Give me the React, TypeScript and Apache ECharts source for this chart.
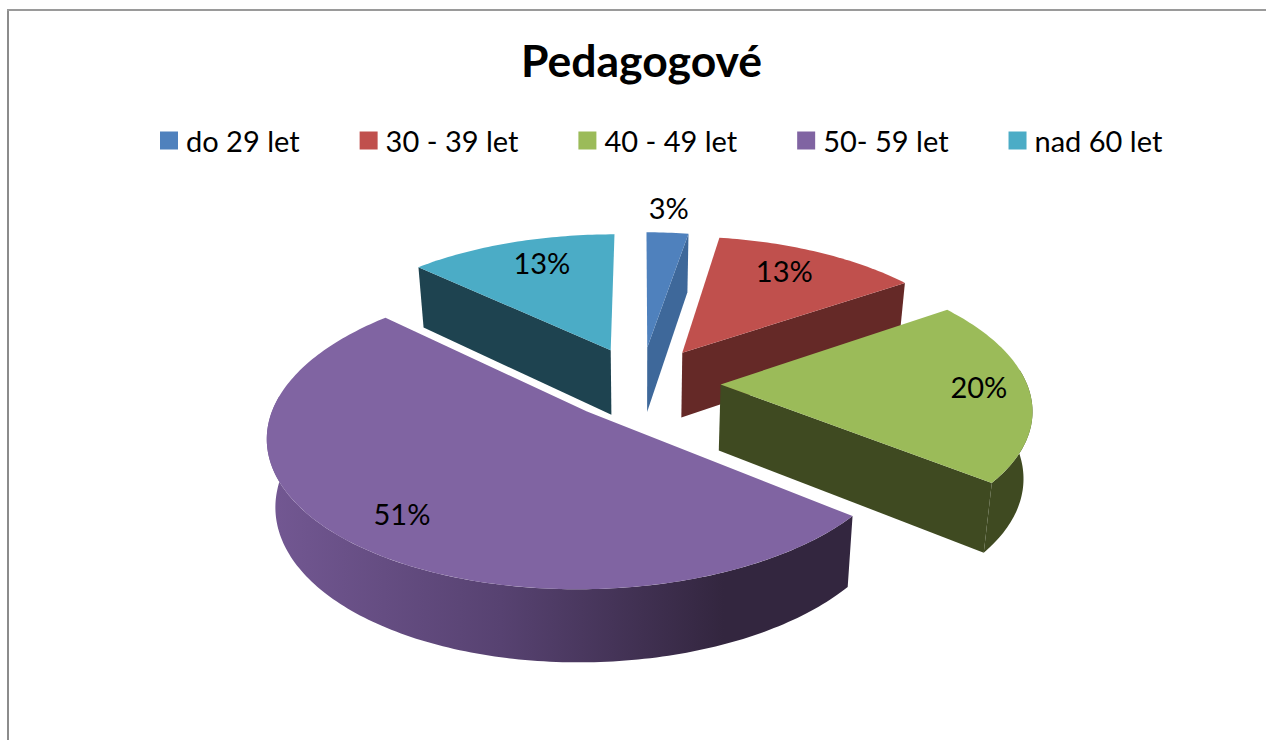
import React, { useEffect, useRef } from "react";
import * as echarts from "echarts";

const TITLE = "Pedagogové";
const categories = ["do 29 let", "30 - 39 let", "40 - 49 let", "50- 59 let", "nad 60 let"];
// percentages; the printed labels are these rounded
const shares = [2.6, 12.8, 20.4, 51.3, 12.9];
const topColors = ["#4F81BD", "#C0504D", "#9BBB59", "#8064A2", "#4BACC6"];
const wallColors = ["#3E689A", "#652927", "#3F4A21", "#3A2B4C", "#1E4350"];

// drawing geometry of the exploded 3D pie
const CX = 641, CY = 383, RX = 306, RY = 142, PERSP = 0.148, EXPLODE = 0.26;
const DEPTH = 66, SHRINK = 0.977;
const labelRadii = [1.26, 0.785, 0.84, 0.8, 0.775];
const labelTurn = [-0.6, -2.5, -1, -1, 3];
const seriesZ = [3, 4, 5, 6, 2];

const total = shares.reduce((a, b) => a + b, 0);
const rad = (d: number) => (d * Math.PI) / 180;
const startAngle = (i: number) => (shares.slice(0, i).reduce((a, b) => a + b, 0) / total) * 360;

const top = (X: number, Y: number): [number, number] => {
  const d = 1 - PERSP * Y;
  return [CX + (X * RX) / d, CY + (Y * RY) / d];
};
const bottom = (X: number, Y: number): [number, number] => {
  const p = top(X, Y);
  return [CX + (p[0] - CX) * SHRINK, p[1] + DEPTH * (1 + 0.09 * Y)];
};

function renderSlice(i: number) {
  return (_params: any, api: any) => {
    const value = api.value(0);
    const a = startAngle(i);
    const b = a + (value / total) * 360;
    const mid = rad((a + b) / 2);
    const ax = EXPLODE * Math.sin(mid);
    const ay = -EXPLODE * Math.cos(mid);
    const at = (deg: number, r = 1): [number, number] => [
      ax + r * Math.sin(rad(deg)),
      ay - r * Math.cos(rad(deg)),
    ];
    const arc: [number, number][] = [];
    const steps = Math.max(4, Math.ceil(b - a));
    for (let s = 0; s <= steps; s++) arc.push(at(a + ((b - a) * s) / steps));

    const children: any[] = [];
    const wall = (pts: [number, number][], fill: any) =>
      children.push({ type: "polygon", shape: { points: pts }, style: { fill }, silent: true });
    const radial = (deg: number) => {
      const e = at(deg);
      wall([top(ax, ay), top(e[0], e[1]), bottom(e[0], e[1]), bottom(ax, ay)], wallColors[i]);
    };
    if (Math.sin(rad(a)) < -0.001) radial(a);
    if (Math.sin(rad(b)) > 0.001) radial(b);

    const lo = Math.max(a, 84), hi = Math.min(b, 276);
    if (hi > lo) {
      const front: [number, number][] = [];
      const n = Math.ceil(hi - lo);
      for (let s = 0; s <= n; s++) front.push(at(lo + ((hi - lo) * s) / n));
      const up = front.map((p) => top(p[0], p[1]));
      const down = front.map((p) => bottom(p[0], p[1])).reverse();
      const fill =
        i === 3
          ? new echarts.graphic.LinearGradient(0, 0, 1, 0, [
              { offset: 0, color: "#735893" },
              { offset: 0.4, color: "#574271" },
              { offset: 0.78, color: "#33263F" },
              { offset: 1, color: "#33263F" },
            ])
          : wallColors[i];
      wall(up.concat(down), fill);
    }

    children.push({
      type: "polygon",
      shape: { points: [top(ax, ay)].concat(arc.map((p) => top(p[0], p[1]))) },
      style: { fill: topColors[i] },
      silent: true,
    });
    const l = at((a + b) / 2 + labelTurn[i], labelRadii[i]);
    const lp = top(l[0], l[1]);
    children.push({
      type: "text",
      x: lp[0],
      y: lp[1],
      silent: true,
      style: {
        text: Math.round(value) + "%",
        fill: "#000",
        font: "29px Lato",
        align: "center",
        verticalAlign: "middle",
      },
    });
    return { type: "group", children };
  };
}

export default function App() {
  const ref = useRef<HTMLDivElement>(null);
  useEffect(() => {
    document.body.style.margin = "0";
    const chart = echarts.init(ref.current!, null, { renderer: "svg" });
    chart.setOption({
      animation: false,
      backgroundColor: "#fff",
      title: {
        text: TITLE,
        left: 636.5,
        top: 32,
        textAlign: "center",
        textStyle: { fontFamily: "Lato", fontWeight: "bold", fontSize: 44.5, color: "#000" },
      },
      legend: {
        data: categories,
        left: 160,
        top: 126,
        padding: 0,
        icon: "rect",
        itemWidth: 18,
        itemHeight: 18,
        itemGap: 60,
        selectedMode: false,
        textStyle: { fontFamily: "Lato", fontSize: 29, color: "#000", padding: [0, 0, 0, 3] },
      },
      graphic: [
        { type: "rect", silent: true, shape: { x: 7, y: 9, width: 2, height: 731 }, style: { fill: "#8C8C8C" } },
        { type: "rect", silent: true, shape: { x: 7, y: 9, width: 1259, height: 2 }, style: { fill: "#9A9A9A" } },
      ],
      series: categories.map((name, i) => ({
        type: "custom",
        name,
        coordinateSystem: "none",
        z: seriesZ[i],
        silent: true,
        itemStyle: { color: topColors[i] },
        renderItem: renderSlice(i),
        data: [[shares[i]]],
      })),
    });
    return () => chart.dispose();
  }, []);
  return <div ref={ref} style={{ width: 1266, height: 740 }} />;
}
